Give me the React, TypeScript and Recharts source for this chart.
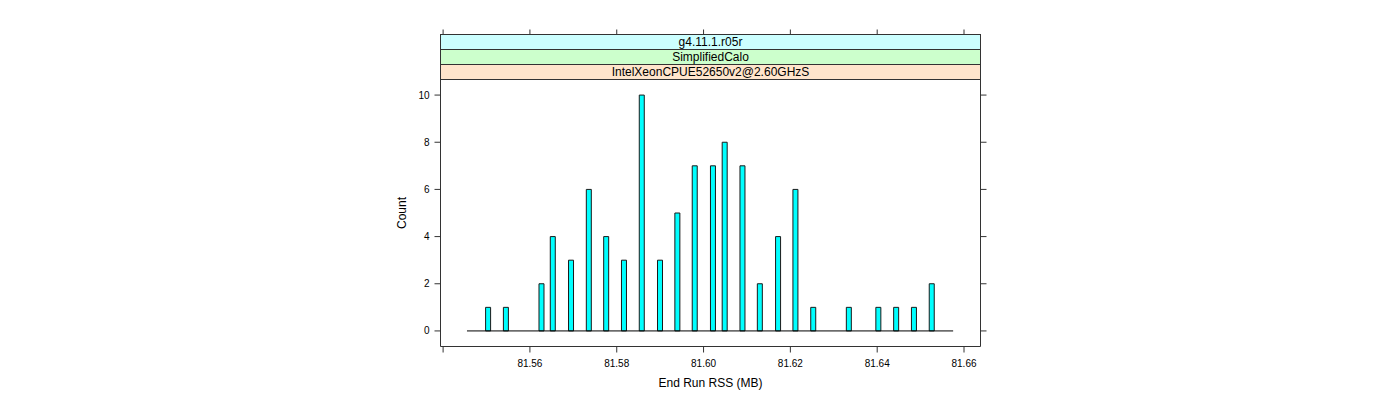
import React from "react";
import { ComposedChart, Bar, XAxis, YAxis, ReferenceLine } from "recharts";

const rssValues = [
  81.5504, 81.5545, 81.5627, 81.5653, 81.5695, 81.5736, 81.5776, 81.5817,
  81.5858, 81.59, 81.594, 81.598, 81.6022, 81.6049, 81.609, 81.613,
  81.6172, 81.6212, 81.6253, 81.6335, 81.6403, 81.6444, 81.6485, 81.6526,
];
const counts = [1, 1, 2, 4, 3, 6, 4, 3, 10, 3, 5, 7, 7, 8, 7, 2, 4, 6, 1, 1, 1, 1, 1, 2];
const xTicks = [81.54, 81.56, 81.58, 81.6, 81.62, 81.64, 81.66];
const yTicks = [0, 2, 4, 6, 8, 10];
const stripLabels = ["g4.11.1.r05r", "SimplifiedCalo", "IntelXeonCPUE52650v2@2.60GHzS"];
const stripColors = ["#ccffff", "#ccffcc", "#ffe5cc"];
const xDomain: [number, number] = [81.5394, 81.6638];
const yDomain: [number, number] = [-0.66, 10.66];
const baselineRange = [81.5455, 81.6575];

const data = rssValues.map((v, i) => ({ rss: v, count: counts[i] }));

const FONT = "'Liberation Sans', Arial, Helvetica, sans-serif";
const AXIS_COLOR = "#333";

const XTick = (props: any) => {
  const { x, y, payload } = props;
  if (Math.abs(payload.value - 81.54) < 1e-6) return <g />;
  return (
    <text x={x} y={y} dy="0.71em" textAnchor="middle" fontSize={10} fill="#000" fontFamily={FONT}>
      {payload.value.toFixed(2)}
    </text>
  );
};

const YTick = (props: any) => {
  const { x, y, payload } = props;
  return (
    <text x={x} y={y} dy="0.355em" textAnchor="end" fontSize={10} fill="#000" fontFamily={FONT}>
      {payload.value}
    </text>
  );
};

const EmptyTick = () => <g />;

export default function App() {
  return (
    <div style={{ position: "absolute", left: 0, top: 0, width: 1400, height: 400, background: "#fff", fontFamily: FONT }}>
      <ComposedChart
        width={1400}
        height={400}
        data={data}
        margin={{ top: 78.5, right: 409.5, bottom: 23.5, left: 380.5 }}
      >
        <XAxis
          dataKey="rss"
          type="number"
          domain={xDomain}
          ticks={xTicks}
          allowDataOverflow
          height={30}
          tick={<XTick />}
          tickSize={6}
          tickMargin={7}
          stroke={AXIS_COLOR}
          interval={0}
        />
        <XAxis
          xAxisId="top"
          dataKey="rss"
          type="number"
          orientation="top"
          domain={xDomain}
          ticks={xTicks}
          allowDataOverflow
          height={1}
          tick={<EmptyTick />}
          tickSize={50}
          axisLine={false}
          stroke={AXIS_COLOR}
          interval={0}
        />
        <YAxis
          type="number"
          domain={yDomain}
          ticks={yTicks}
          allowDataOverflow
          width={60}
          tick={<YTick />}
          tickSize={6}
          tickMargin={5}
          stroke={AXIS_COLOR}
          interval={0}
        />
        <YAxis
          yAxisId="right"
          orientation="right"
          type="number"
          domain={yDomain}
          ticks={yTicks}
          allowDataOverflow
          width={10}
          tick={<EmptyTick />}
          tickSize={6}
          stroke={AXIS_COLOR}
          interval={0}
        />
        <ReferenceLine
          segment={[
            { x: baselineRange[0], y: 0 },
            { x: baselineRange[1], y: 0 },
          ]}
          stroke="#000"
          strokeWidth={1}
        />
        <Bar
          dataKey="count"
          barSize={5}
          fill="#00ffff"
          stroke="#1a1a1a"
          strokeWidth={1}
          isAnimationActive={false}
        />
      </ComposedChart>
      {stripLabels.map((label, i) => (
        <div
          key={label}
          style={{
            position: "absolute",
            left: 440,
            top: 34 + i * 15,
            width: 541,
            height: 16,
            boxSizing: "border-box",
            border: `1px solid ${AXIS_COLOR}`,
            background: stripColors[i],
            fontSize: 12,
            lineHeight: "14px",
            textAlign: "center",
            color: "#000",
          }}
        >
          {label}
        </div>
      ))}
      <div
        style={{
          position: "absolute",
          left: 440,
          width: 541,
          top: 376,
          textAlign: "center",
          fontSize: 12,
          color: "#000",
        }}
      >
        End Run RSS (MB)
      </div>
      <div
        style={{
          position: "absolute",
          left: 402,
          top: 213,
          transform: "translate(-50%, -50%) rotate(-90deg)",
          fontSize: 12,
          color: "#000",
          whiteSpace: "nowrap",
        }}
      >
        Count
      </div>
    </div>
  );
}
